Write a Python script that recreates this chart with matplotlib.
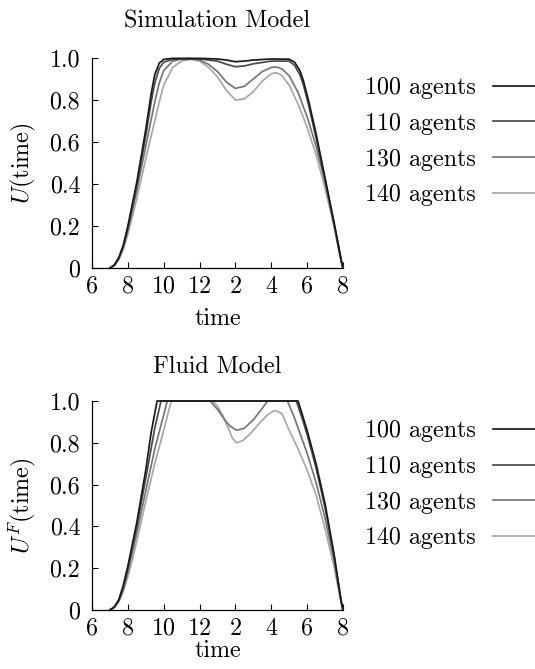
import matplotlib
matplotlib.use("Agg")
import matplotlib.pyplot as plt

plt.rcParams["font.family"] = "serif"
plt.rcParams["font.serif"] = ["cmr10"]
plt.rcParams["mathtext.fontset"] = "cm"
plt.rcParams["axes.unicode_minus"] = False

# eixo do tempo (horas do dia) e rotulos
x_ticks = [6, 8, 10, 12, 14, 16, 18, 20]
x_labels = ["6", "8", "10", "12", "2", "4", "6", "8"]
y_ticks = [0, 0.2, 0.4, 0.6, 0.8, 1.0]
y_labels = ["0", "0.2", "0.4", "0.6", "0.8", "1.0"]

agents = ["100 agents", "110 agents", "130 agents", "140 agents"]
colors = ["#1a1a1a", "#4a4a4a", "#767676", "#a8a8a8"]

# --- Simulation Model ---
sim_t_a = [7.0, 7.25, 7.5, 7.75, 8.0, 8.5, 9.0, 9.3, 9.5, 9.75, 10.0, 10.5, 12.0,
           13.0, 13.5, 14.0, 14.5, 15.0, 16.0, 17.0, 17.3, 17.6, 17.8, 18.1, 18.5,
           19.0, 19.5, 19.75, 19.9, 20.0]
sim_100 = [0, 0.015, 0.05, 0.11, 0.2, 0.41, 0.66, 0.83, 0.92, 0.975, 0.993, 0.998, 0.998,
           0.995, 0.99, 0.982, 0.985, 0.99, 0.995, 0.994, 0.98, 0.94, 0.89, 0.79, 0.64,
           0.43, 0.22, 0.11, 0.04, 0]
sim_110 = [0, 0.014, 0.048, 0.105, 0.19, 0.39, 0.63, 0.79, 0.88, 0.95, 0.98, 0.993, 0.995,
           0.985, 0.97, 0.958, 0.962, 0.972, 0.985, 0.985, 0.965, 0.92, 0.87, 0.77, 0.62,
           0.42, 0.21, 0.1, 0.035, 0]

sim_t_b = [7.0, 7.25, 7.5, 7.75, 8.0, 8.5, 9.0, 9.5, 9.75, 10.0, 10.5, 11.0, 11.5, 12.0,
           12.5, 13.0, 13.5, 14.0, 14.5, 15.0, 15.5, 16.0, 16.3, 16.6, 17.0, 17.5, 18.0,
           18.5, 19.0, 19.5, 19.75, 19.9, 20.0]
sim_130 = [0, 0.013, 0.045, 0.1, 0.18, 0.37, 0.58, 0.79, 0.88, 0.94, 0.985, 0.995, 0.997,
           0.99, 0.97, 0.935, 0.885, 0.855, 0.865, 0.9, 0.935, 0.955, 0.957, 0.948, 0.915,
           0.835, 0.72, 0.58, 0.41, 0.21, 0.1, 0.035, 0]
sim_140 = [0, 0.012, 0.04, 0.09, 0.16, 0.33, 0.52, 0.7, 0.79, 0.87, 0.955, 0.985, 0.993,
           0.985, 0.955, 0.91, 0.845, 0.8, 0.805, 0.84, 0.89, 0.925, 0.93, 0.915, 0.87,
           0.78, 0.67, 0.54, 0.38, 0.2, 0.09, 0.03, 0]

# --- Fluid Model ---
flu_t_100 = [7.0, 7.25, 7.5, 7.75, 8.0, 8.5, 9.0, 9.3, 9.63, 17.5, 18.0, 18.5, 19.0,
             19.5, 19.75, 19.9, 20.0]
flu_100 = [0, 0.015, 0.05, 0.12, 0.21, 0.42, 0.67, 0.85, 1.0, 1.0, 0.86, 0.7, 0.51,
           0.27, 0.13, 0.045, 0]
flu_t_110 = [7.0, 7.25, 7.5, 7.75, 8.0, 8.5, 9.0, 9.5, 9.85, 17.4, 17.75, 18.0, 18.5,
             19.0, 19.5, 19.75, 19.9, 20.0]
flu_110 = [0, 0.014, 0.048, 0.11, 0.2, 0.4, 0.63, 0.87, 1.0, 1.0, 0.91, 0.84, 0.68,
           0.49, 0.26, 0.12, 0.04, 0]
flu_t_130 = [7.0, 7.25, 7.5, 7.75, 8.0, 8.5, 9.0, 9.5, 10.2, 12.6, 13.0, 13.4, 13.7,
             14.07, 14.5, 15.0, 15.5, 15.8, 16.9, 17.25, 17.5, 18.0, 18.5, 19.0, 19.5,
             19.75, 19.9, 20.0]
flu_130 = [0, 0.013, 0.045, 0.1, 0.18, 0.37, 0.57, 0.77, 1.0, 1.0, 0.96, 0.91, 0.88,
           0.86, 0.87, 0.91, 0.965, 1.0, 1.0, 0.93, 0.87, 0.75, 0.61, 0.44, 0.24, 0.11,
           0.04, 0]
flu_t_140 = [7.0, 7.25, 7.5, 7.75, 8.0, 8.25, 8.5, 9.0, 9.5, 10.0, 10.42, 12.75, 13.0,
             13.3, 13.6, 13.85, 14.07, 14.4, 14.8, 15.3, 15.8, 16.2, 16.6, 17.0, 17.5,
             18.0, 18.5, 19.0, 19.5, 19.75, 19.9, 20.0]
flu_140 = [0, 0.012, 0.04, 0.09, 0.16, 0.24, 0.33, 0.52, 0.7, 0.86, 1.0, 1.0, 0.975,
           0.93, 0.87, 0.82, 0.8, 0.81, 0.84, 0.89, 0.935, 0.955, 0.94, 0.86, 0.77,
           0.67, 0.55, 0.39, 0.21, 0.1, 0.035, 0]

FS = 17.3


def formatar_eixo(ax, titulo, ylabel, title_pad, xpad):
    ax.set_xlim(6, 20)
    ax.set_ylim(0, 1.0)
    ax.spines["top"].set_visible(False)
    ax.spines["right"].set_visible(False)
    ax.spines["left"].set_linewidth(0.9)
    ax.spines["bottom"].set_linewidth(0.9)
    ax.set_xticks(x_ticks)
    ax.set_xticklabels(x_labels)
    ax.set_yticks(y_ticks)
    ax.set_yticklabels(y_labels)
    ax.tick_params(direction="in", length=4, width=0.8, labelsize=FS)
    ax.tick_params(axis="x", pad=5.5)
    ax.tick_params(axis="y", pad=8.5)
    ax.set_title(titulo, fontsize=FS, pad=title_pad)
    ax.set_xlabel("time", fontsize=FS, labelpad=xpad)
    ax.set_ylabel(ylabel, fontsize=FS, labelpad=8)


fig = plt.figure(figsize=(5.35, 6.69), dpi=100)
ax1 = fig.add_axes([0.172, 0.5994, 0.469, 0.314])
ax2 = fig.add_axes([0.172, 0.0882, 0.469, 0.3124])

series_sim = [(sim_t_a, sim_100), (sim_t_a, sim_110), (sim_t_b, sim_130), (sim_t_b, sim_140)]
series_flu = [(flu_t_100, flu_100), (flu_t_110, flu_110), (flu_t_130, flu_130),
              (flu_t_140, flu_140)]

for ax, series in [(ax1, series_sim), (ax2, series_flu)]:
    # desenha do mais claro para o mais escuro, escuro fica por cima
    for i in reversed(range(len(series))):
        t, u = series[i]
        ax.plot(t, u, color=colors[i], lw=1.25, label=agents[i], clip_on=False,
                solid_joinstyle="round")

formatar_eixo(ax1, "Simulation Model", r"$U(\mathrm{time})$", 22, 7)
formatar_eixo(ax2, "Fluid Model", r"$U^F(\mathrm{time})$", 20, 0)

for ax, y0 in [(ax1, 0.8848), (ax2, 0.372)]:
    handles, labels = ax.get_legend_handles_labels()
    ax.legend(handles[::-1], labels[::-1], loc="upper left", bbox_to_anchor=(0.682, y0),
              bbox_transform=fig.transFigure, frameon=False, markerfirst=False,
              fontsize=FS, handlelength=1.9, handletextpad=0.71, labelspacing=0.565,
              borderpad=0, borderaxespad=0)

fig.savefig("out.png", dpi=100)
